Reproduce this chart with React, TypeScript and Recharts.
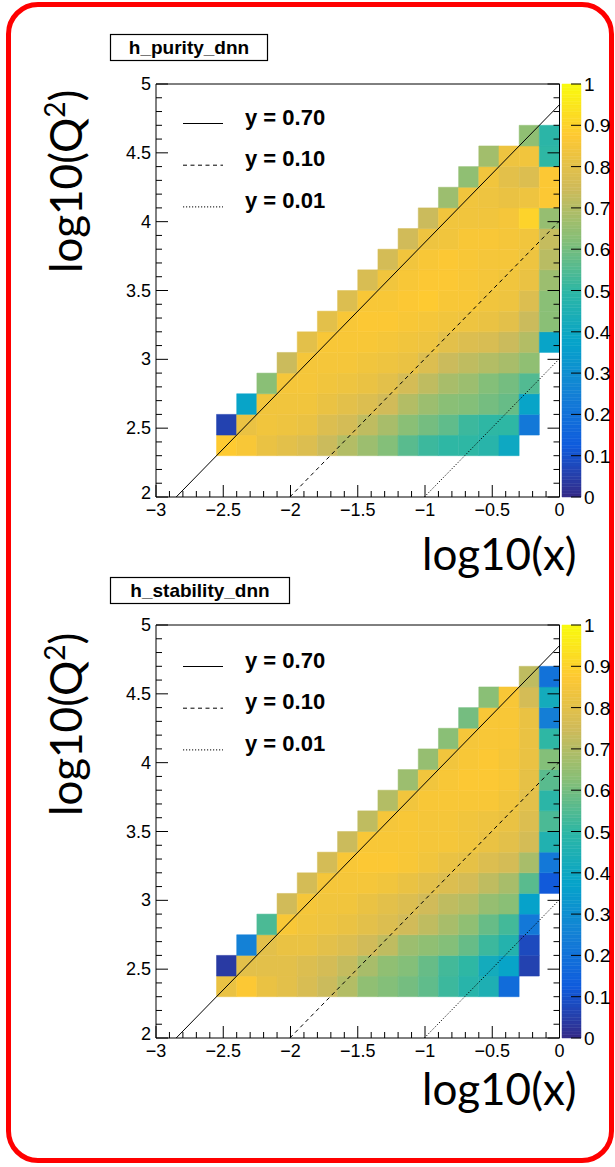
import React from 'react';
import { ScatterChart, Scatter, XAxis, YAxis, ReferenceArea, ReferenceLine } from 'recharts';

// ---- data ----
const X_EDGES = [-2.55, -2.4, -2.25, -2.1, -1.95, -1.8, -1.65, -1.5, -1.35, -1.2, -1.05, -0.9, -0.75, -0.6, -0.45, -0.3, -0.15, 0];
const Y_EDGES = [2.3, 2.45, 2.6, 2.75, 2.9, 3.05, 3.2, 3.35, 3.5, 3.65, 3.8, 3.95, 4.1, 4.25, 4.4, 4.55, 4.7];
const ROW_FIRST_BIN = [0, 0, 1, 2, 3, 4, 5, 6, 7, 8, 9, 10, 11, 12, 13, 15];

const PURITY = [
  [0.88, 0.86, 0.82, 0.80, 0.78, 0.74, 0.70, 0.66, 0.62, 0.56, 0.52, 0.50, 0.50, 0.48, 0.40],
  [0.06, 0.82, 0.84, 0.83, 0.82, 0.78, 0.76, 0.72, 0.68, 0.63, 0.60, 0.57, 0.52, 0.50, 0.50, 0.22],
  [0.38, 0.84, 0.84, 0.84, 0.82, 0.80, 0.78, 0.75, 0.70, 0.66, 0.63, 0.62, 0.60, 0.58, 0.38],
  [0.63, 0.85, 0.85, 0.84, 0.83, 0.82, 0.80, 0.76, 0.72, 0.68, 0.66, 0.62, 0.60, 0.55],
  [0.74, 0.85, 0.85, 0.85, 0.84, 0.83, 0.82, 0.78, 0.74, 0.72, 0.70, 0.68, 0.64],
  [0.80, 0.86, 0.86, 0.86, 0.85, 0.84, 0.83, 0.80, 0.78, 0.77, 0.74, 0.70, 0.38],
  [0.80, 0.86, 0.87, 0.87, 0.86, 0.85, 0.84, 0.83, 0.82, 0.80, 0.74, 0.63],
  [0.78, 0.86, 0.86, 0.87, 0.88, 0.86, 0.86, 0.84, 0.83, 0.78, 0.63],
  [0.77, 0.84, 0.86, 0.87, 0.87, 0.86, 0.85, 0.84, 0.82, 0.66],
  [0.76, 0.84, 0.86, 0.87, 0.86, 0.85, 0.85, 0.83, 0.71],
  [0.75, 0.83, 0.84, 0.86, 0.86, 0.85, 0.84, 0.73],
  [0.74, 0.84, 0.84, 0.84, 0.85, 0.90, 0.65],
  [0.66, 0.84, 0.83, 0.82, 0.83, 0.87],
  [0.64, 0.84, 0.80, 0.78, 0.87],
  [0.67, 0.83, 0.84, 0.50],
  [0.64, 0.49],
];

const STABILITY = [
  [0.82, 0.87, 0.82, 0.80, 0.77, 0.74, 0.70, 0.64, 0.62, 0.60, 0.57, 0.52, 0.48, 0.45, 0.18],
  [0.04, 0.80, 0.80, 0.80, 0.78, 0.76, 0.73, 0.68, 0.64, 0.62, 0.58, 0.53, 0.50, 0.42, 0.38, 0.06],
  [0.25, 0.80, 0.82, 0.82, 0.80, 0.78, 0.75, 0.72, 0.66, 0.64, 0.62, 0.58, 0.52, 0.47, 0.08],
  [0.54, 0.86, 0.84, 0.83, 0.82, 0.80, 0.78, 0.75, 0.72, 0.68, 0.64, 0.58, 0.53, 0.22],
  [0.75, 0.85, 0.84, 0.84, 0.82, 0.80, 0.78, 0.75, 0.72, 0.70, 0.65, 0.63, 0.37],
  [0.76, 0.85, 0.85, 0.85, 0.84, 0.82, 0.80, 0.78, 0.76, 0.72, 0.68, 0.56, 0.12],
  [0.76, 0.86, 0.87, 0.87, 0.86, 0.84, 0.82, 0.81, 0.78, 0.76, 0.68, 0.22],
  [0.74, 0.86, 0.86, 0.86, 0.85, 0.85, 0.84, 0.82, 0.80, 0.76, 0.46],
  [0.72, 0.85, 0.86, 0.85, 0.85, 0.84, 0.83, 0.82, 0.78, 0.54],
  [0.70, 0.84, 0.86, 0.86, 0.86, 0.86, 0.84, 0.80, 0.49],
  [0.66, 0.84, 0.86, 0.87, 0.87, 0.86, 0.81, 0.56],
  [0.65, 0.84, 0.86, 0.87, 0.85, 0.82, 0.62],
  [0.63, 0.85, 0.86, 0.86, 0.82, 0.50],
  [0.60, 0.86, 0.86, 0.82, 0.24],
  [0.63, 0.86, 0.76, 0.42],
  [0.72, 0.20],
];

const X_MAJOR = [-3, -2.5, -2, -1.5, -1, -0.5, 0];
const Y_MAJOR = [2, 2.5, 3, 3.5, 4, 4.5, 5];
const Z_TICKS = [0, 0.1, 0.2, 0.3, 0.4, 0.5, 0.6, 0.7, 0.8, 0.9, 1];
const Y_INELASTICITY = [0.70, 0.10, 0.01];
const Y_LABELS = ['y = 0.70', 'y = 0.10', 'y = 0.01'];
const SQRT_S = 318;
const TITLES = ['h_purity_dnn', 'h_stability_dnn'];

// ---- palette (ROOT kBird) ----
const BIRD_STOPS = [0, 0.125, 0.25, 0.375, 0.5, 0.625, 0.75, 0.875, 1];
const BIRD_R = [0.2082, 0.0592, 0.0780, 0.0232, 0.1802, 0.5301, 0.8186, 0.9956, 0.9764];
const BIRD_G = [0.1664, 0.3599, 0.5041, 0.6419, 0.7178, 0.7492, 0.7328, 0.7862, 0.9832];
const BIRD_B = [0.5293, 0.8684, 0.8385, 0.7914, 0.6425, 0.4662, 0.3499, 0.1968, 0.0539];

function bird(v: number): string {
  const t = Math.max(0, Math.min(1, v));
  let i = 0;
  while (i < BIRD_STOPS.length - 2 && t > BIRD_STOPS[i + 1]) i++;
  const f = (t - BIRD_STOPS[i]) / (BIRD_STOPS[i + 1] - BIRD_STOPS[i]);
  const c = (a: number[]) => Math.round(255 * (a[i] + f * (a[i + 1] - a[i])));
  return `rgb(${c(BIRD_R)},${c(BIRD_G)},${c(BIRD_B)})`;
}

const LOG_S = Math.log10(SQRT_S * SQRT_S);

function rangeTicks(a: number, b: number, step: number): number[] {
  const out: number[] = [];
  const n = Math.round((b - a) / step);
  for (let i = 0; i <= n; i++) out.push(Math.round((a + i * step) * 1000) / 1000);
  return out;
}
const X_TICKS = rangeTicks(-3, 0, 0.1);
const Y_TICKS = rangeTicks(2, 5, 0.1);

const isMajor = (v: number, majors: number[]) => majors.some((m) => Math.abs(m - v) < 1e-6);
const fmt = (v: number) => (v < 0 ? '\u2212' + String(Math.abs(v)) : String(v));

const AXIS_FONT = '"Liberation Sans", Arial, Helvetica, sans-serif';
const BIG_FONT = 'Lato, "Open Sans", sans-serif';

// ---- geometry ----
const CHART_W = 600;
const CHART_H = 540;
const PLOT_L = 156;
const PLOT_T = 84;
const PLOT_W = 403.5;
const PLOT_H = 413;
const PANEL_DY = 540.5;
const CB_L = 562;
const CB_R = 581;
const DASHES = [undefined, '4 3.5', '1.2 1.8'];

const BottomTick = (p: any) => {
  const v = p.payload.value;
  const major = isMajor(v, X_MAJOR);
  return (
    <g>
      <line x1={p.x} x2={p.x} y1={p.y} y2={p.y - (major ? 12 : 6)} stroke="#000" strokeWidth={1} />
      {major && (
        <text x={p.x} y={p.y + 19} textAnchor="middle" fontSize={18} fontFamily={AXIS_FONT} fill="#000">
          {fmt(v)}
        </text>
      )}
    </g>
  );
};
const TopTick = (p: any) => {
  const v = p.payload.value;
  const major = isMajor(v, X_MAJOR);
  return <line x1={p.x} x2={p.x} y1={p.y} y2={p.y + (major ? 12 : 6)} stroke="#000" strokeWidth={1} />;
};
const LeftTick = (p: any) => {
  const v = p.payload.value;
  const major = isMajor(v, Y_MAJOR);
  const lowest = Math.abs(v - Y_MAJOR[0]) < 1e-6;
  return (
    <g>
      <line x1={p.x} x2={p.x + (major ? 12 : 6)} y1={p.y} y2={p.y} stroke="#000" strokeWidth={1} />
      {major && (
        <text x={p.x - 5} y={p.y + (lowest ? 2 : 6)} textAnchor="end" fontSize={18} fontFamily={AXIS_FONT} fill="#000">
          {fmt(v)}
        </text>
      )}
    </g>
  );
};
const RightTick = (p: any) => {
  const v = p.payload.value;
  const major = isMajor(v, Y_MAJOR);
  return <line x1={p.x} x2={p.x - (major ? 12 : 6)} y1={p.y} y2={p.y} stroke="#000" strokeWidth={1} />;
};
const ZTick = (p: any) => {
  const v = p.payload.value;
  return (
    <g>
      <line x1={p.x} x2={p.x - 10} y1={p.y} y2={p.y} stroke="#000" strokeWidth={1} />
      <text x={p.x + 3} y={p.y + 7} textAnchor="start" fontSize={19} fontFamily={AXIS_FONT} fill="#000">
        {String(v)}
      </text>
    </g>
  );
};

function buildCells(values: number[][]) {
  const cells: { x1: number; x2: number; y1: number; y2: number; v: number; xc: number; yc: number }[] = [];
  values.forEach((row, r) => {
    row.forEach((v, k) => {
      const c = ROW_FIRST_BIN[r] + k;
      cells.push({
        x1: X_EDGES[c],
        x2: X_EDGES[c + 1],
        y1: Y_EDGES[r],
        y2: Y_EDGES[r + 1],
        v,
        xc: (X_EDGES[c] + X_EDGES[c + 1]) / 2,
        yc: (Y_EDGES[r] + Y_EDGES[r + 1]) / 2,
      });
    });
  });
  return cells;
}

const Z_SLICES = Array.from({ length: 120 }, (_, i) => ({ y1: i / 120, y2: (i + 1) / 120, v: (i + 0.5) / 120 }));

// axes are 1px thick (a 0px axis is not drawn), so margins are reduced by 1
function Heatmap({ values }: { values: number[][] }) {
  const cells = buildCells(values);
  const margin = {
    top: PLOT_T - 1,
    left: PLOT_L - 1,
    right: CHART_W - PLOT_L - PLOT_W - 1,
    bottom: CHART_H - PLOT_T - PLOT_H - 1,
  };
  return (
    <ScatterChart width={CHART_W} height={CHART_H} margin={margin}>
      <XAxis type="number" dataKey="xc" domain={[-3, 0]} ticks={X_TICKS} interval={0} height={1} tickSize={0} tickMargin={0}
        axisLine={false} tickLine={false} tick={(p: any) => <BottomTick {...p} />} allowDataOverflow />
      <XAxis xAxisId="top" orientation="top" type="number" domain={[-3, 0]} ticks={X_TICKS} interval={0} height={1} tickSize={0}
        tickMargin={0} axisLine={false} tickLine={false} tick={(p: any) => <TopTick {...p} />} allowDataOverflow />
      <YAxis type="number" dataKey="yc" domain={[2, 5]} ticks={Y_TICKS} interval={0} width={1} tickSize={0} tickMargin={0}
        axisLine={false} tickLine={false} tick={(p: any) => <LeftTick {...p} />} allowDataOverflow />
      <YAxis yAxisId="right" orientation="right" type="number" domain={[2, 5]} ticks={Y_TICKS} interval={0} width={1} tickSize={0}
        tickMargin={0} axisLine={false} tickLine={false} tick={(p: any) => <RightTick {...p} />} allowDataOverflow />
      {cells.map((c, i) => (
        <ReferenceArea key={'c' + i} x1={c.x1} x2={c.x2} y1={c.y1} y2={c.y2} fill={bird(c.v)} fillOpacity={1}
          stroke={bird(c.v)} strokeWidth={0.5} />
      ))}
      {Y_INELASTICITY.map((yv, i) => {
        const q = LOG_S + Math.log10(yv);
        return (
          <ReferenceLine key={'l' + i} segment={[{ x: 2 - q, y: 2 }, { x: 0, y: q }]} stroke="#000" strokeWidth={1}
            strokeDasharray={DASHES[i]} ifOverflow="visible" />
        );
      })}
      <ReferenceArea x1={-3} x2={0} y1={2} y2={5} fill="none" stroke="#000" strokeWidth={1} />
      <Scatter data={cells} isAnimationActive={false} shape={() => <g />} />
    </ScatterChart>
  );
}

function ColorBar() {
  const margin = { top: PLOT_T, left: CB_L, right: 615 - CB_R - 1, bottom: CHART_H - PLOT_T - PLOT_H };
  return (
    <ScatterChart width={615} height={CHART_H} margin={margin}>
      <XAxis type="number" dataKey="x" domain={[0, 1]} hide />
      <YAxis orientation="right" type="number" dataKey="y" domain={[0, 1]} ticks={Z_TICKS} interval={0} width={1} tickSize={0}
        tickMargin={0} axisLine={false} tickLine={false} tick={(p: any) => <ZTick {...p} />} />
      {Z_SLICES.map((s, i) => (
        <ReferenceArea key={'z' + i} x1={0} x2={1} y1={s.y1} y2={s.y2} fill={bird(s.v)} fillOpacity={1} stroke={bird(s.v)} strokeWidth={0.5} />
      ))}
      <Scatter data={[{ x: 0.5, y: 0.5 }]} isAnimationActive={false} shape={() => <g />} />
    </ScatterChart>
  );
}

function Overlay({ dy, title, titleW, xLabelBase }: { dy: number; title: string; titleW: number; xLabelBase: number }) {
  return (
    <g transform={`translate(0,${dy})`}>
      <rect x={110.5} y={34.5} width={titleW} height={26} fill="#fff" stroke="#000" strokeWidth={1.2} />
      <text x={110.5 + titleW / 2} y={54} textAnchor="middle" fontSize={19} fontWeight="bold" fontFamily={AXIS_FONT}>{title}</text>
      {Y_LABELS.map((lab, i) => (
        <g key={lab}>
          <line x1={183} x2={223} y1={123.5 + i * 41.7} y2={123.5 + i * 41.7} stroke="#000" strokeWidth={1} strokeDasharray={DASHES[i]} />
          <text x={245} y={124.5 + i * 41.7} fontSize={22} fontWeight="bold" fontFamily={AXIS_FONT}>{lab}</text>
        </g>
      ))}
      <text x={422} y={xLabelBase} fontSize={44} fontFamily={BIG_FONT}>log10(x)</text>
      <text transform="translate(82,273) rotate(-90)" fontSize={44} fontFamily={BIG_FONT}>
        log10(Q<tspan dy={-17} fontSize={28}>2</tspan><tspan dy={17}>)</tspan>
      </text>
    </g>
  );
}

export default function App() {
  return (
    <div style={{ position: 'absolute', left: 0, top: 0, width: 615, height: 1167, background: '#fff', overflow: 'hidden' }}>
      <div style={{ position: 'absolute', left: 6, top: 2, width: 608, height: 1161, boxSizing: 'border-box', border: '5px solid #ff0000', borderRadius: 32 }} />
      <div style={{ position: 'absolute', left: 0, top: 0 }}>
        <Heatmap values={PURITY} />
      </div>
      <div style={{ position: 'absolute', left: 0, top: 0 }}>
        <ColorBar />
      </div>
      <div style={{ position: 'absolute', left: 0, top: PANEL_DY }}>
        <Heatmap values={STABILITY} />
      </div>
      <div style={{ position: 'absolute', left: 0, top: PANEL_DY }}>
        <ColorBar />
      </div>
      <svg width={615} height={1167} style={{ position: 'absolute', left: 0, top: 0, pointerEvents: 'none' }}>
        <Overlay dy={0} title={TITLES[0]} titleW={157} xLabelBase={570} />
        <Overlay dy={PANEL_DY + 2.5} title={TITLES[1]} titleW={179} xLabelBase={562} />
      </svg>
    </div>
  );
}
